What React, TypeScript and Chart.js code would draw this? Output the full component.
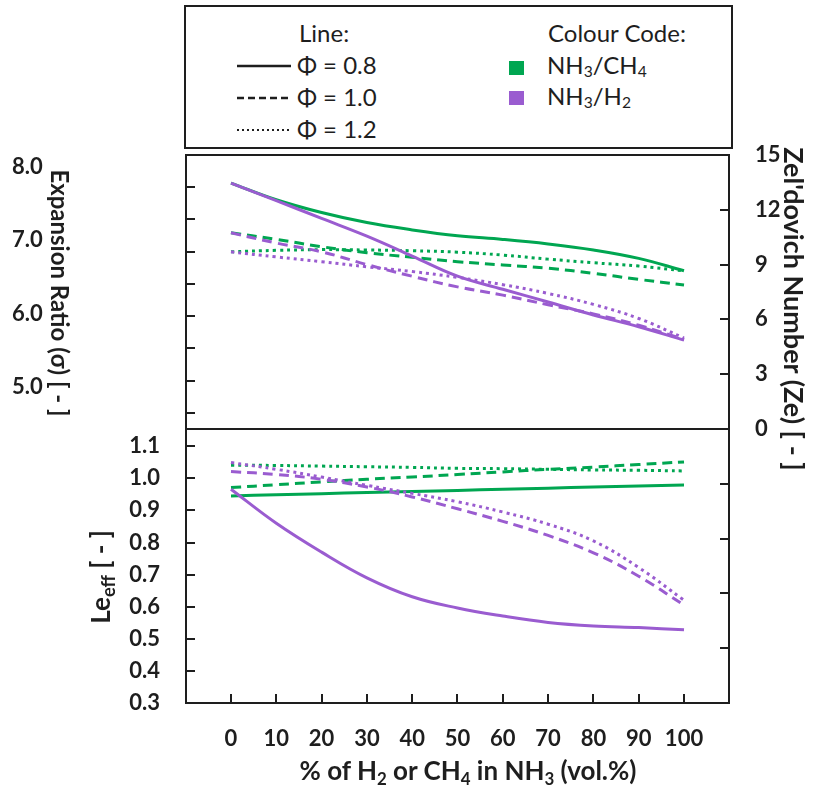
import React, { useEffect, useRef } from 'react';
import { Chart, registerables } from 'chart.js';

Chart.register(...registerables);

// ---------- data ----------
const xValues = [0, 10, 20, 30, 40, 50, 60, 70, 80, 90, 100];

// Top panel – Zel'dovich number
const zeCH4Phi08 = [13.46, 12.55, 11.85, 11.3, 10.9, 10.58, 10.38, 10.13, 9.8, 9.34, 8.66];
const zeCH4Phi10 = [10.74, 10.38, 9.98, 9.65, 9.4, 9.16, 8.98, 8.8, 8.52, 8.19, 7.88];
const zeCH4Phi12 = [9.7, 9.78, 9.82, 9.8, 9.76, 9.68, 9.52, 9.3, 9.1, 8.92, 8.66];
const zeH2Phi08 = [13.46, 12.5, 11.53, 10.56, 9.47, 8.37, 7.65, 6.95, 6.24, 5.6, 4.87];
const zeH2Phi10 = [10.74, 10.18, 9.7, 9.0, 8.36, 7.78, 7.33, 6.8, 6.3, 5.68, 4.9];
const zeH2Phi12 = [9.7, 9.42, 9.16, 8.88, 8.62, 8.3, 7.9, 7.42, 6.82, 6.05, 4.98];

// Bottom panel – effective Lewis number
const leCH4Phi08 = [0.945, 0.949, 0.952, 0.956, 0.959, 0.962, 0.966, 0.969, 0.973, 0.976, 0.979];
const leCH4Phi10 = [0.971, 0.98, 0.989, 0.997, 1.004, 1.012, 1.02, 1.028, 1.035, 1.043, 1.051];
const leCH4Phi12 = [1.041, 1.04, 1.038, 1.036, 1.034, 1.031, 1.03, 1.028, 1.026, 1.025, 1.023];
const leH2Phi08 = [0.966, 0.86, 0.77, 0.69, 0.631, 0.596, 0.571, 0.551, 0.54, 0.535, 0.528];
const leH2Phi10 = [1.021, 1.012, 0.997, 0.973, 0.942, 0.905, 0.866, 0.822, 0.768, 0.695, 0.605];
const leH2Phi12 = [1.049, 1.028, 1.004, 0.978, 0.953, 0.927, 0.895, 0.857, 0.805, 0.722, 0.62];

// ticks
const xTickValues = [0, 10, 20, 30, 40, 50, 60, 70, 80, 90, 100];
const sigmaLabelValues = [5, 6, 7, 8];
const sigmaMarkValues = [4.5, 5, 5.5, 6, 6.5, 7, 7.5, 8];
const zeLabelValues = [0, 3, 6, 9, 12, 15];
const zeMarkValues = [3, 6, 9, 12];
const leLabelValues = [0.3, 0.4, 0.5, 0.6, 0.7, 0.8, 0.9, 1.0, 1.1];
const leMarkValues = [0.4, 0.5, 0.6, 0.7, 0.8, 0.9, 1.0, 1.1];
const lowerRightMarkValues = [-3, -6, -9, -12];

// ---------- styles ----------
const GREEN = '#00a651';
const PURPLE = '#9a5cd0';
const INK = '#1e1e1e';
const FAMILY = 'Lato, "Noto Sans", "DejaVu Sans", sans-serif';
const SOLID: number[] = [];
const DASHED = [10, 6];
const DOTTED = [3, 4];
const TICK_LEN = 9;
const X_MIN = -9.93;
const X_MAX = 109.93;

const tickFont = { family: FAMILY, size: 22, weight: 'bold' as const };

type Marks = { axis: string; side: 'left' | 'right' | 'bottom'; values: number[] };

const framePlugin = (id: string, marks: Marks[]) => ({
  id,
  afterDraw(chart: any) {
    const { ctx, chartArea: a } = chart;
    ctx.save();
    ctx.strokeStyle = INK;
    ctx.lineWidth = 2;
    ctx.strokeRect(a.left, a.top, a.right - a.left, a.bottom - a.top);
    marks.forEach((m) => {
      const s = chart.scales[m.axis];
      m.values.forEach((v) => {
        const p = Math.round(s.getPixelForValue(v));
        ctx.beginPath();
        if (m.side === 'left') {
          ctx.moveTo(a.left, p);
          ctx.lineTo(a.left + TICK_LEN, p);
        } else if (m.side === 'right') {
          ctx.moveTo(a.right, p);
          ctx.lineTo(a.right - TICK_LEN, p);
        } else {
          ctx.moveTo(p, a.bottom);
          ctx.lineTo(p, a.bottom - TICK_LEN);
        }
        ctx.stroke();
      });
    });
    ctx.restore();
  },
});

const fixW = (w: number) => (s: any) => {
  s.width = w;
  s.paddingTop = 0;
  s.paddingBottom = 0;
};
const fixH = (h: number) => (s: any) => {
  s.height = h;
  s.paddingLeft = 0;
  s.paddingRight = 0;
};
const setTicks = (vals: number[]) => (s: any) => {
  s.ticks = vals.map((v) => ({ value: v }));
};

const ds = (label: string, values: number[], color: string, dash: number[], yAxisID: string) => ({
  label,
  data: values.map((v, i) => ({ x: xValues[i], y: v })),
  borderColor: color,
  backgroundColor: color,
  borderWidth: 3,
  borderDash: dash,
  pointRadius: 0,
  tension: 0.4,
  fill: false,
  yAxisID,
});

const noGrid = { display: false, drawTicks: false, tickLength: 0 };

export default function App() {
  const topRef = useRef<HTMLCanvasElement>(null);
  const botRef = useRef<HTMLCanvasElement>(null);

  useEffect(() => {
    document.body.style.margin = '0';
    const top = new Chart(topRef.current!, {
      type: 'line',
      data: {
        datasets: [
          ds('NH3/H2 Φ=0.8', zeH2Phi08, PURPLE, SOLID, 'yZe'),
          ds('NH3/H2 Φ=1.0', zeH2Phi10, PURPLE, DASHED, 'yZe'),
          ds('NH3/H2 Φ=1.2', zeH2Phi12, PURPLE, DOTTED, 'yZe'),
          ds('NH3/CH4 Φ=0.8', zeCH4Phi08, GREEN, SOLID, 'yZe'),
          ds('NH3/CH4 Φ=1.0', zeCH4Phi10, GREEN, DASHED, 'yZe'),
          ds('NH3/CH4 Φ=1.2', zeCH4Phi12, GREEN, DOTTED, 'yZe'),
        ],
      },
      options: {
        responsive: false,
        animation: false,
        layout: { padding: { top: 25, bottom: 21, left: 12, right: 0 } },
        plugins: { legend: { display: false }, tooltip: { enabled: false } },
        scales: {
          x: { type: 'linear', min: X_MIN, max: X_MAX, display: false },
          ySig: { type: 'linear', position: 'left', display: false, min: 4.252, max: 8.496 },
          ySigLab: {
            type: 'linear',
            position: 'left',
            min: 4.427,
            max: 8.164,
            grid: noGrid,
            border: { display: false },
            ticks: { crossAlign: 'far', padding: 0, font: tickFont, color: INK, callback: (v: any) => Number(v).toFixed(1) },
            afterBuildTicks: setTicks(sigmaLabelValues),
            afterFit: fixW(174),
          },
          yZe: {
            type: 'linear',
            position: 'right',
            min: 0,
            max: 15,
            grid: noGrid,
            border: { display: false },
            ticks: { padding: 26, font: tickFont, color: INK, callback: (v: any) => String(v) },
            afterBuildTicks: setTicks(zeLabelValues),
            afterFit: fixW(88),
          },
        },
      } as any,
      plugins: [
        framePlugin('frameTop', [
          { axis: 'ySig', side: 'left', values: sigmaMarkValues },
          { axis: 'yZe', side: 'right', values: zeMarkValues },
        ]),
      ],
    });

    const bot = new Chart(botRef.current!, {
      type: 'line',
      data: {
        datasets: [
          ds('NH3/H2 Φ=0.8', leH2Phi08, PURPLE, SOLID, 'yLe'),
          ds('NH3/H2 Φ=1.0', leH2Phi10, PURPLE, DASHED, 'yLe'),
          ds('NH3/H2 Φ=1.2', leH2Phi12, PURPLE, DOTTED, 'yLe'),
          ds('NH3/CH4 Φ=0.8', leCH4Phi08, GREEN, SOLID, 'yLe'),
          ds('NH3/CH4 Φ=1.0', leCH4Phi10, GREEN, DASHED, 'yLe'),
          ds('NH3/CH4 Φ=1.2', leCH4Phi12, GREEN, DOTTED, 'yLe'),
        ],
      },
      options: {
        responsive: false,
        animation: false,
        layout: { padding: { top: 19, bottom: 0, left: 0, right: 88 } },
        plugins: { legend: { display: false }, tooltip: { enabled: false } },
        scales: {
          x: {
            type: 'linear',
            min: X_MIN,
            max: X_MAX,
            grid: noGrid,
            border: { display: false },
            ticks: { padding: 23, maxRotation: 0, autoSkip: false, font: tickFont, color: INK, callback: (v: any) => String(v) },
            afterBuildTicks: setTicks(xTickValues),
            afterFit: fixH(93),
          },
          yLe: {
            type: 'linear',
            position: 'left',
            min: 0.3,
            max: 1.1536,
            grid: noGrid,
            border: { display: false },
            ticks: { padding: 26, font: tickFont, color: INK, callback: (v: any) => Number(v).toFixed(1) },
            afterBuildTicks: setTicks(leLabelValues),
            afterFit: fixW(186),
          },
          yR: { type: 'linear', position: 'right', display: false, min: -15, max: 0 },
        },
      } as any,
      plugins: [
        framePlugin('frameBot', [
          { axis: 'yLe', side: 'left', values: leMarkValues },
          { axis: 'yR', side: 'right', values: lowerRightMarkValues },
          { axis: 'x', side: 'bottom', values: xTickValues },
        ]),
      ],
    });

    return () => {
      top.destroy();
      bot.destroy();
    };
  }, []);

  const txt = (extra: React.CSSProperties): React.CSSProperties => ({
    position: 'absolute',
    whiteSpace: 'nowrap',
    fontFamily: FAMILY,
    color: INK,
    lineHeight: 1.2,
    ...extra,
  });
  const sub: React.CSSProperties = { fontSize: '0.65em', verticalAlign: '-0.2em', lineHeight: 0 };
  const LEG = 24;
  const legTop = (cy: number) => cy - 0.629 * LEG;

  return (
    <div style={{ position: 'absolute', left: 0, top: 0, width: 817, height: 796, background: '#fff', overflow: 'hidden' }}>
      {/* legend box */}
      <div style={{ position: 'absolute', left: 184, top: 5, width: 545, height: 140, border: `2px solid ${INK}` }} />
      <span style={txt({ left: 299, top: legTop(34), fontSize: LEG })}>Line:</span>
      <span style={txt({ left: 297, top: legTop(66), fontSize: LEG })}>Φ = 0.8</span>
      <span style={txt({ left: 297, top: legTop(98), fontSize: LEG })}>Φ = 1.0</span>
      <span style={txt({ left: 297, top: legTop(130), fontSize: LEG })}>Φ = 1.2</span>
      <svg style={{ position: 'absolute', left: 236, top: 55 }} width={56} height={86}>
        <line x1={1} y1={11} x2={55} y2={11} stroke={INK} strokeWidth={2.5} />
        <line x1={1} y1={43} x2={55} y2={43} stroke={INK} strokeWidth={2.5} strokeDasharray="7 4" />
        <line x1={1} y1={75} x2={55} y2={75} stroke={INK} strokeWidth={2} strokeDasharray="2 3" />
      </svg>
      <span style={txt({ left: 548, top: legTop(34), fontSize: LEG })}>Colour Code:</span>
      <div style={{ position: 'absolute', left: 509, top: 61, width: 15, height: 14, background: GREEN }} />
      <div style={{ position: 'absolute', left: 509, top: 91, width: 15, height: 14, background: PURPLE }} />
      <span style={txt({ left: 547, top: legTop(66), fontSize: LEG })}>
        NH<span style={sub}>3</span>/CH<span style={sub}>4</span>
      </span>
      <span style={txt({ left: 547, top: legTop(97), fontSize: LEG })}>
        NH<span style={sub}>3</span>/H<span style={sub}>2</span>
      </span>

      <canvas ref={topRef} width={817} height={320} style={{ position: 'absolute', left: 0, top: 130 }} />
      <canvas ref={botRef} width={817} height={386} style={{ position: 'absolute', left: 0, top: 410 }} />

      {/* axis titles */}
      <div style={txt({ left: 60 - 150, top: 293 - 15, width: 300, height: 30, lineHeight: '30px', textAlign: 'center', fontSize: 24, fontWeight: 700, transform: 'rotate(90deg)' })}>
        Expansion Ratio (σ) [ - ]
      </div>
      <div style={txt({ left: 794 - 200, top: 309 - 16, width: 400, height: 32, lineHeight: '32px', textAlign: 'center', fontSize: 27, fontWeight: 700, transform: 'rotate(90deg)' })}>
        Zel'dovich Number (Ze) [ - ]
      </div>
      <div style={txt({ left: 100 - 100, top: 577 - 16, width: 200, height: 32, lineHeight: '32px', textAlign: 'center', fontSize: 26, fontWeight: 700, transform: 'rotate(-90deg)' })}>
        Le<span style={{ fontSize: '0.7em', verticalAlign: '-0.25em', lineHeight: 0 }}>eff</span> [ - ]
      </div>
      <div style={txt({ left: 468 - 300, top: 771 - 0.629 * 26, width: 600, textAlign: 'center', fontSize: 26, fontWeight: 700 })}>
        % of H<span style={{ ...sub, verticalAlign: '-0.3em' }}>2</span> or CH<span style={{ ...sub, verticalAlign: '-0.3em' }}>4</span> in NH
        <span style={{ ...sub, verticalAlign: '-0.3em' }}>3</span> (vol.%)
      </div>
    </div>
  );
}
